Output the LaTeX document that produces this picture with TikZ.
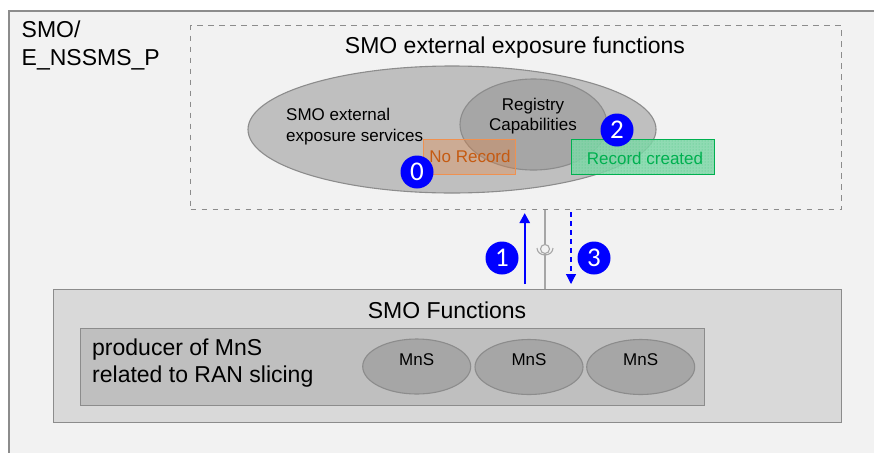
\documentclass[tikz,border=0pt]{standalone}
\usepackage{fontspec}
\setmainfont{Liberation Sans}
\newfontfamily\digitfont{Carlito}
\usetikzlibrary{arrows.meta,patterns,shapes.geometric}
\definecolor{bgout}{HTML}{F2F2F2}
\definecolor{edge}{HTML}{8C8C8C}
\definecolor{fnfill}{HTML}{D9D9D9}
\definecolor{midfill}{HTML}{BFBFBF}
\definecolor{darkfill}{HTML}{A6A6A6}
\definecolor{orng}{HTML}{ED7D31}
\definecolor{orngtxt}{HTML}{C55A11}
\definecolor{grn}{HTML}{00B050}
\definecolor{blu}{HTML}{0000FF}
\tikzset{
  box/.style={draw=edge,line width=1.25pt,inner sep=0pt,anchor=north west},
  oval/.style={draw=edge,line width=1.1pt,ellipse,inner sep=0pt},
  badge/.style={circle,fill=blu,text=white,minimum size=33pt,inner sep=0pt,font=\digitfont\fontsize{27}{27}\selectfont},
  big/.style={inner sep=0pt,font=\fontsize{23}{28}\selectfont},
  small/.style={inner sep=0pt,font=\fontsize{17}{21}\selectfont},
  mns/.style={oval,fill=darkfill,minimum width=108pt,minimum height=55pt},
  wire/.style={draw=darkfill,line width=1.4pt}
}
\begin{document}
\begin{tikzpicture}[x=1pt,y=-1pt]
\useasboundingbox (0,0) rectangle (874,453);
\fill[white] (0,0) rectangle (874,453);
\fill[bgout] (9,11) rectangle (874,453);
\draw[edge,line width=1.25pt] (874,11) -- (9,11) -- (9,453);
\node[big,align=left,anchor=north west] (smo) at (21.5,21) {SMO/\\E\_NSSMS\_P};
\node[draw=edge,line width=1.3pt,dash pattern=on 5.5pt off 5.5pt,inner sep=0pt,minimum width=651pt,minimum height=184pt,anchor=north west] (ext) at (190,25) {};
\node[big,anchor=base] (exttitle) at (515,53) {SMO external exposure functions};
\node[oval,fill=midfill,minimum width=408pt,minimum height=127pt] (svc) at (452,129.5) {};
\node[oval,fill=darkfill,minimum width=147pt,minimum height=91pt] (reg) at (533.5,124.5) {};
\node[small,align=left,anchor=north west] (svctxt) at (286,107.5) {SMO external\\exposure services};
\node[small,align=center,anchor=north] (regtxt) at (533,98) {Registry\\[-1pt]Capabilities};
\node[fill=orng,fill opacity=.3,inner sep=0pt,minimum width=92pt,minimum height=35pt] (norec) at (469.5,157) {};
\draw[orng!85!white,line width=1.1pt] (norec.south west) rectangle (norec.north east);
\node[small,text=orngtxt,anchor=base] (norectxt) at (470,162) {No Record};
\node[fill=grn!50!white,fill opacity=.85,inner sep=0pt,minimum width=143pt,minimum height=35pt] (rec) at (643,157) {};
\fill[pattern=dots,pattern color=grn!70!white] (rec.south west) rectangle (rec.north east);
\draw[grn,line width=1.1pt] (rec.south west) rectangle (rec.north east);
\node[small,text=grn,anchor=base] (rectxt) at (645,164) {Record created};
\node[badge] (b0) at (417,172) {0};
\node[badge] (b2) at (617,130) {2};
\node[box,fill=fnfill,minimum width=788pt,minimum height=133pt] (fn) at (53,289) {};
\node[big,anchor=base] (fntitle) at (447,318) {SMO Functions};
\node[box,fill=midfill,minimum width=624pt,minimum height=77pt] (prod) at (80,328) {};
\node[big,align=left,anchor=north west] (prodtxt) at (92,339) {producer of MnS\\[-1pt]related to RAN slicing};
\node[mns] (m1) at (416.7,366.5) {};
\node[mns] (m2) at (529,367) {};
\node[mns] (m3) at (640.7,367) {};
\node[small,anchor=base] (t1) at (m1.center |- 0,365) {MnS};
\node[small,anchor=base] (t2) at (m2.center |- 0,365) {MnS};
\node[small,anchor=base] (t3) at (m3.center |- 0,365) {MnS};
% interface
\coordinate (ifcc) at (545,249);
\coordinate (ifctop) at (ifcc |- ext.south);
\coordinate (ifcbot) at (ifcc |- fn.north);
\draw[wire] (ifctop) -- (545,244.5) (545,253.5) -- (ifcbot);
\draw[wire,line width=1.1pt] (ifcc) circle[radius=4.5pt];
\draw[wire,line width=1.1pt] (537,248) arc[start angle=180,end angle=360,x radius=8pt,y radius=7pt];
\coordinate (a1b) at (524.7,284);
\coordinate (a1t) at (524.7,213);
\coordinate (a3t) at (571,212);
\coordinate (a3b) at (571,284);
\draw[blu,line width=2.4pt,-{Triangle[length=10pt,width=10pt]}] (a1b) -- (a1t);
\draw[blu,line width=1.2pt,dash pattern=on 5pt off 4pt,-{Triangle[length=10pt,width=10pt]}] (a3t) -- (a3b);
\node[badge] (b1) at (502,258) {1};
\node[badge] (b3) at (594,258) {3};
\end{tikzpicture}
\end{document}
